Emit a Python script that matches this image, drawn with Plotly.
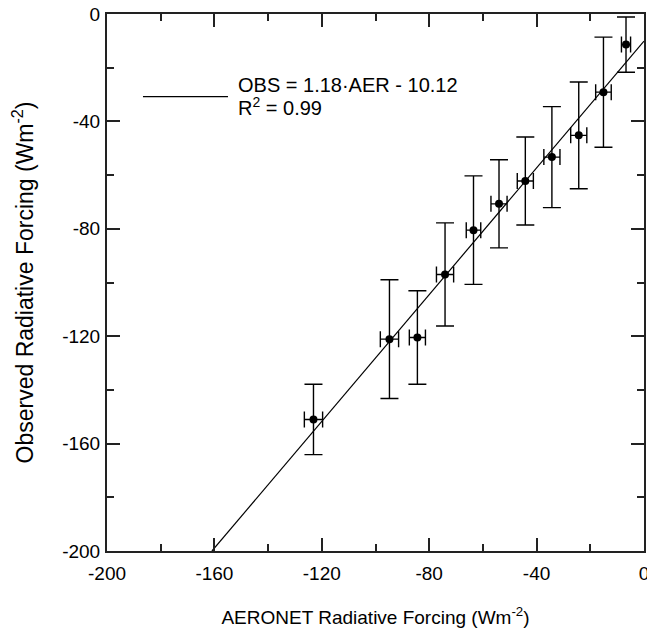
import numpy as np
import plotly.graph_objects as go

# Data
aeronet = [-123.1, -94.8, -84.4, -74.1, -63.5, -54.0, -44.2, -34.3, -24.3, -15.1, -6.7]
observed = [-151.0, -121.1, -120.5, -97.0, -80.5, -70.7, -62.2, -53.3, -45.2, -29.1, -11.4]
obs_err = [13.1, 22.1, 17.4, 19.2, 20.2, 16.4, 16.4, 18.8, 19.9, 20.5, 10.3]
aer_err = [3.4, 3.4, 3.0, 3.2, 2.7, 3.0, 3.0, 3.0, 3.0, 2.9, 1.7]

fit_slope = 1.18
fit_intercept = -10.12
fit_r2 = 0.99

x_ticks = [-200, -160, -120, -80, -40, 0]
x_tick_labels = ["-200", "-160", "-120", "-80", "-40", "0"]
y_ticks = [-200, -160, -120, -80, -40, 0]
y_tick_labels = ["-200", "-160", "-120", "-80", "-40", "0"]
x_range = [-200, 0]
y_range = [-200, 0]

FONT = "Liberation Sans, Arial, sans-serif"
INK = "#000000"
AXIS = "#222222"

# Regression line clipped to the axis box
x0 = max(x_range[0], (y_range[0] - fit_intercept) / fit_slope)
x1 = min(x_range[1], (y_range[1] - fit_intercept) / fit_slope)
fit_x = np.array([x0, x1])
fit_y = fit_slope * fit_x + fit_intercept

fig = go.Figure()

fig.add_trace(go.Scatter(
    x=fit_x, y=fit_y, mode="lines",
    line=dict(color=INK, width=1.2),
    showlegend=False, hoverinfo="skip",
))

fig.add_trace(go.Scatter(
    x=aeronet, y=observed, mode="markers",
    marker=dict(color=INK, size=8),
    error_y=dict(type="data", array=obs_err, visible=True,
                 color=INK, thickness=1.4, width=9),
    error_x=dict(type="data", array=aer_err, visible=True,
                 color=INK, thickness=1.4, width=8),
    showlegend=False,
))

# Legend drawn as a line sample plus text
fig.add_shape(type="line", xref="paper", yref="paper",
              x0=0.067, x1=0.2253, y0=0.846, y1=0.846,
              line=dict(color=INK, width=1.2))
fig.add_annotation(xref="paper", yref="paper", x=0.240, y=0.867,
                   xanchor="left", yanchor="middle", showarrow=False,
                   text=f"OBS = {fit_slope:.2f}·AER - {abs(fit_intercept):.2f}",
                   font=dict(family=FONT, size=20, color=INK))
fig.add_annotation(xref="paper", yref="paper", x=0.240, y=0.827,
                   xanchor="left", yanchor="middle", showarrow=False,
                   text=f"R<sup>2</sup> = {fit_r2:.2f}",
                   font=dict(family=FONT, size=20, color=INK))

axis_common = dict(
    showgrid=False, zeroline=False, automargin=False,
    showline=True, linecolor=AXIS, linewidth=2, mirror="ticks",
    ticks="inside", ticklen=13, tickwidth=1.5, tickcolor=AXIS,
    minor=dict(ticks="inside", ticklen=7, tickwidth=1.5, tickcolor=AXIS, dtick=20, showgrid=False),
    tickfont=dict(family=FONT, size=19, color=INK),
    ticklabeloverflow="allow",
)

fig.update_layout(
    width=647, height=639,
    margin=dict(l=107, r=3, t=14, b=88),
    paper_bgcolor="white", plot_bgcolor="white",
    font=dict(family=FONT, color=INK),
    xaxis=dict(range=x_range, tickvals=x_ticks, ticktext=x_tick_labels, ticklabelstandoff=4,
               title=dict(text="AERONET Radiative Forcing (Wm<sup>-2</sup>)",
                          font=dict(family=FONT, size=19, color=INK), standoff=28),
               **axis_common),
    yaxis=dict(range=y_range, tickvals=y_ticks, ticktext=y_tick_labels, ticklabelstandoff=1,
               title=dict(text="Observed Radiative Forcing (Wm<sup>-2</sup>)",
                          font=dict(family=FONT, size=23, color=INK), standoff=22),
               **axis_common),
)

fig.write_html("out.html",
               config={"displayModeBar": False},
               post_script="document.body.style.margin='0';document.body.style.overflow='hidden';")
